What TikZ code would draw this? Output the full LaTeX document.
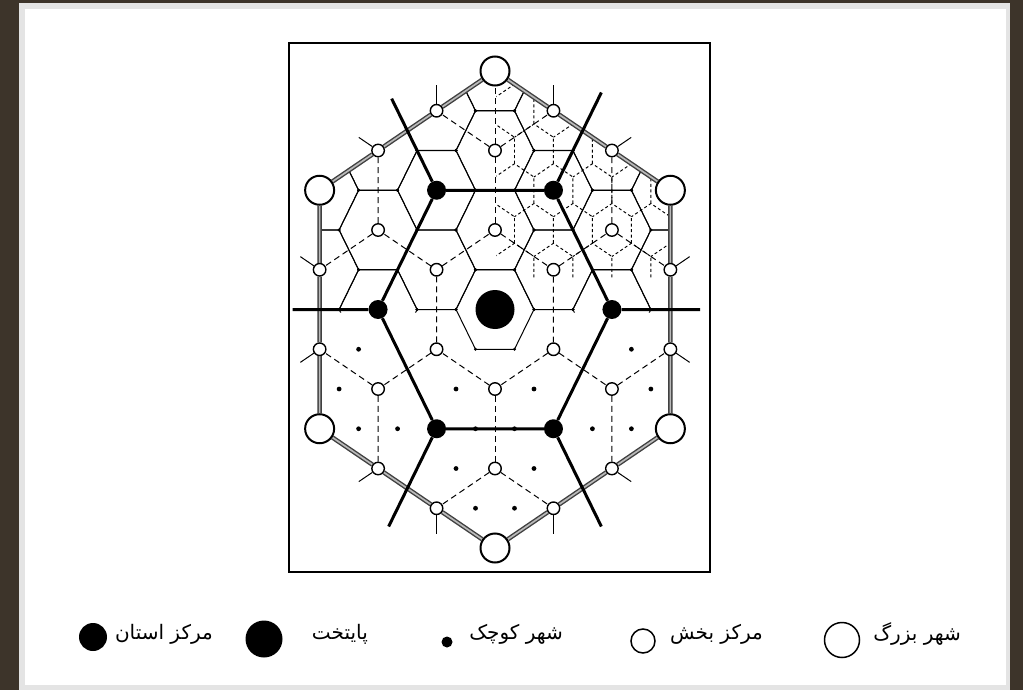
\documentclass[tikz,border=0pt]{standalone}
\usepackage{fontspec}
\newfontfamily\arabicfont[Script=Arabic]{DejaVu Sans}
\TeXXeTstate=1
\usetikzlibrary{calc}
\definecolor{framebrown}{HTML}{3D342A}
\definecolor{framegrey}{HTML}{E4E4E4}
\pgfdeclarelayer{back}
\pgfdeclarelayer{bg}
\pgfsetlayers{back,bg,main}
\begin{document}
\begin{tikzpicture}[x=1pt,y=-1pt,
  bigc/.style={circle,draw=black,line width=2pt,fill=white,minimum size=29pt,inner sep=0pt},
  distc/.style={circle,draw=black,line width=1.4pt,fill=white,minimum size=12.5pt,inner sep=0pt},
  provc/.style={circle,fill=black,minimum size=19pt,inner sep=0pt},
  capc/.style={circle,fill=black,minimum size=39pt,inner sep=0pt},
  townc/.style={circle,fill=black,minimum size=4.8pt,inner sep=0pt},
  thinl/.style={line width=1pt,line join=round},
  dashl/.style={line width=1pt,dash pattern=on 6pt off 4pt},
  finel/.style={line width=0.95pt,black,dash pattern=on 3pt off 2.5pt},
  stubl/.style={line width=1pt},
  thickl/.style={line width=3pt},
  roadl/.style={draw=black!75,line width=1.4pt,double=gray!55,double distance=1.7pt},
  lgtext/.style={anchor=east,inner sep=0pt,font=\arabicfont\fontsize{20}{24}\selectfont}]
\begin{pgfonlayer}{back}
\fill[framebrown] (0,0) rectangle (1023,690);
\fill[framegrey] (19,3) rectangle (1010,690);
\fill[white] (25,9) rectangle (1006,685);
\end{pgfonlayer}
\useasboundingbox (0,0) rectangle (1023,690);
\draw[line width=2.4pt] (289,43) rectangle (710,572);

\begin{scope}[shift={(495,309.5)},x=67.5pt,y=79.5pt]
% ---- centres ----
\node[capc] (cap) at (0,0) {};
\node[provc] (p0) at (1.7320508,0) {};
\node[provc] (p1) at (0.8660254,1.5) {};
\node[provc] (p2) at (-0.8660254,1.5) {};
\node[provc] (p3) at (-1.7320508,0) {};
\node[provc] (p4) at (-0.8660254,-1.5) {};
\node[provc] (p5) at (0.8660254,-1.5) {};
\node[bigc] (b0) at (0,3) {};
\node[bigc] (b1) at (2.5980762,1.5) {};
\node[bigc] (b2) at (2.5980762,-1.5) {};
\node[bigc] (b3) at (0,-3) {};
\node[bigc] (b4) at (-2.5980762,-1.5) {};
\node[bigc] (b5) at (-2.5980762,1.5) {};
\foreach \n/\ang in {0/90,1/30,2/-30,3/-90,4/-150,5/150}{
  \node[distc] (a\n) at (\ang:1) {};
  \node[distc] (bb\n) at (\ang:2) {};
}
\node[distc] (c01) at (0.8660254,2.5) {};
\node[distc] (c10) at (1.7320508,2) {};
\node[distc] (c12) at (2.5980762,0.5) {};
\node[distc] (c21) at (2.5980762,-0.5) {};
\node[distc] (c23) at (1.7320508,-2) {};
\node[distc] (c32) at (0.8660254,-2.5) {};
\node[distc] (c34) at (-0.8660254,-2.5) {};
\node[distc] (c43) at (-1.7320508,-2) {};
\node[distc] (c45) at (-2.5980762,-0.5) {};
\node[distc] (c54) at (-2.5980762,0.5) {};
\node[distc] (c50) at (-1.7320508,2) {};
\node[distc] (c05) at (-0.8660254,2.5) {};
% small towns (lower half)
\foreach \x/\y [count=\i] in {-2.0207/-0.5,2.0207/-0.5,-2.3094/-1,-0.5774/-1,0.5774/-1,2.3094/-1,
  -2.0207/-1.5,-1.4434/-1.5,-0.2887/-1.5,0.2887/-1.5,1.4434/-1.5,2.0207/-1.5,
  -0.5774/-2,0.5774/-2,-0.2887/-2.5,0.2887/-2.5}
  \node[townc] (t\i) at (\x,\y) {};
% free ends
\coordinate (e0) at (3.04,0);
\coordinate (e3) at (-3.0,0);
\coordinate (e1) at (1.576,2.73);
\coordinate (e2) at (-1.531,2.652);
\coordinate (e4) at (-1.576,-2.73);
\coordinate (e5) at (1.576,-2.73);
\foreach \n/\ang in {c01/90,c10/30,c12/30,c21/-30,c23/-30,c32/-90,c34/-90,c43/210,c45/210,c54/150,c50/150,c05/90}
  \coordinate (s\n) at ($(\n)+(\ang:0.33)$);

\begin{pgfonlayer}{bg}
% village-level market areas, upper right quarter
\begin{scope}
\clip (0.02,0.4) -- (0.02,2.98) -- (2.5980762,1.5) -- (2.5980762,0.4) -- cycle;
\foreach \k in {0,...,7}
  \foreach \m in {-3,...,6}
    \draw[finel] ({0.57735*(\m+0.5*\k)},{0.5*\k}) ++(330:0.3333) -- ++(90:0.3333) -- ++(150:0.3333) -- ++(210:0.3333);
\end{scope}
% thin honeycomb, upper half
\begin{scope}
\clip (2.5980762,-0.04) -- (2.5980762,1.5) -- (0,3) -- (-2.5980762,1.5) -- (-2.5980762,-0.04) -- cycle;
\foreach \x/\y in {1.7320508/0,-1.7320508/0,0.8660254/0.5,-0.8660254/0.5,2.5980762/0.5,-2.5980762/0.5,
  0/1,1.7320508/1,-1.7320508/1,0.8660254/1.5,-0.8660254/1.5,2.5980762/1.5,-2.5980762/1.5,
  0/2,1.7320508/2,-1.7320508/2,0.8660254/2.5,-0.8660254/2.5,0/3}{
  \draw[thinl] (\x,\y) ++(0:0.57735) -- ++(120:0.57735) -- ++(180:0.57735) -- ++(240:0.57735)
     -- ++(300:0.57735) -- ++(0:0.57735) -- cycle;
  \foreach \k in {0,60,...,300}
    \fill ($(\x,\y)+(\k:0.57735)$) circle (1.6pt);
}
\end{scope}
\draw[thinl] (0:0.57735) -- (60:0.57735) -- (120:0.57735) -- (180:0.57735) -- (240:0.57735) -- (300:0.57735) -- cycle;
\foreach \k in {0,60,...,300}
  \fill (\k:0.57735) circle (1.6pt);
% dashed district boundaries
\draw[dashl] (a0) -- (a1) (a1) -- (a2) (a2) -- (a3) (a3) -- (a4) (a4) -- (a5) (a5) -- (a0);
\foreach \n in {0,...,5} \draw[dashl] (a\n) -- (bb\n);
\draw[dashl] (bb0) -- (c01) (bb0) -- (c05) (bb1) -- (c10) (bb1) -- (c12) (bb2) -- (c21) (bb2) -- (c23)
  (bb3) -- (c32) (bb3) -- (c34) (bb4) -- (c43) (bb4) -- (c45) (bb5) -- (c54) (bb5) -- (c50);
\draw[dashl] (bb0) -- (b0);
\foreach \n in {c01,c10,c12,c21,c23,c32,c34,c43,c45,c54,c50,c05}
  \draw[stubl] (\n) -- (s\n);
% roads between big cities
\draw[roadl] (b0) -- (c01) -- (c10) -- (b1) -- (c12) -- (c21) -- (b2) -- (c23) -- (c32) -- (b3)
  -- (c34) -- (c43) -- (b4) -- (c45) -- (c54) -- (b5) -- (c50) -- (c05) -- (b0);
% provincial boundaries
\draw[thickl] (p0) -- (p1) (p1) -- (p2) (p2) -- (p3) (p3) -- (p4) (p4) -- (p5) (p5) -- (p0);
\draw[thickl] (p0) -- (e0) (p1) -- (e1) (p2) -- (e2) (p3) -- (e3) (p4) -- (e4) (p5) -- (e5);
\end{pgfonlayer}
\end{scope}

% ---- legend ----
\node[bigc,line width=1.5pt,minimum size=35pt] (lbig) at (842,640) {};
\node[lgtext] (tbig) at (961,634) {\beginR شهر بزرگ\endR};
\node[distc,line width=1.5pt,minimum size=24pt] (ldist) at (643,641) {};
\node[lgtext] (tdist) at (763,634) {\beginR مرکز بخش\endR};
\node[townc,minimum size=11pt] (ltown) at (447,642) {};
\node[lgtext] (ttown) at (563,634) {\beginR شهر کوچک\endR};
\node[capc,minimum size=37pt] (lcap) at (264,639) {};
\node[lgtext] (tcap) at (368,634) {\beginR پایتخت\endR};
\node[provc,minimum size=28pt] (lprov) at (93,637) {};
\node[lgtext] (tprov) at (213,634) {\beginR مرکز استان\endR};
\end{tikzpicture}
\end{document}
